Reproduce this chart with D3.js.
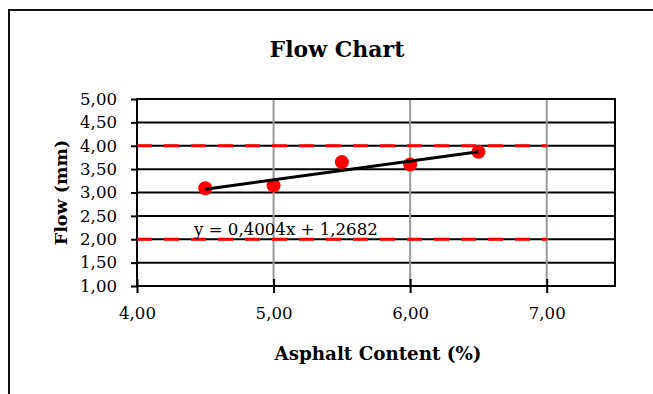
<!DOCTYPE html>
<html>
<head>
<meta charset="utf-8">
<script src="https://cdn.jsdelivr.net/npm/d3@7"></script>
<style>
  body { margin: 0; background: #fff; }
  svg text { font-family: "DejaVu Serif", serif; fill: #000; }
</style>
</head>
<body>
<div id="chart"></div>
<script>
// measured values
var asphaltContent = [4.5, 5.0, 5.5, 6.0, 6.5];
var flowValues = [3.09, 3.15, 3.65, 3.60, 3.87];
var xTicks = [4, 5, 6, 7];
var yTicks = [1, 1.5, 2, 2.5, 3, 3.5, 4, 4.5, 5];
var limitLines = [2, 4];
var trendSlope = 0.4004;
var trendIntercept = 1.2682;
var trendRange = [4.5, 6.5];

var width = 653, height = 394;
var margin = { left: 137, right: 38, top: 99, bottom: 108 };

var svg = d3.select("#chart")
    .append("svg")
    .attr("width", width)
    .attr("height", height);

// outer chart frame (runs off the bottom/right of the window)
svg.append("rect")
    .attr("x", 9).attr("y", 10)
    .attr("width", 700).attr("height", 420)
    .attr("fill", "none")
    .attr("stroke", "#111")
    .attr("stroke-width", 2);

var x = d3.scaleLinear().domain([4, 7.5]).range([margin.left, width - margin.right]);
var y = d3.scaleLinear().domain([1, 5]).range([height - margin.bottom, margin.top]);

var fmt = v => d3.format(".2f")(v).replace(".", ",");

// horizontal gridlines
svg.append("g")
    .selectAll("line")
    .data(yTicks)
    .join("line")
    .attr("x1", x.range()[0]).attr("x2", x.range()[1])
    .attr("y1", d => y(d)).attr("y2", d => y(d))
    .attr("stroke", "#000")
    .attr("stroke-width", 2);

// vertical gridlines
svg.append("g")
    .selectAll("line")
    .data(xTicks.slice(1))
    .join("line")
    .attr("x1", d => x(d)).attr("x2", d => x(d))
    .attr("y1", y(5)).attr("y2", y(1))
    .attr("stroke", "#999")
    .attr("stroke-width", 2);

// plot frame
svg.append("rect")
    .attr("x", x.range()[0]).attr("y", y(5))
    .attr("width", x.range()[1] - x.range()[0])
    .attr("height", y(1) - y(5))
    .attr("fill", "none")
    .attr("stroke", "#000")
    .attr("stroke-width", 2);

// axes
var xAxis = svg.append("g")
    .attr("transform", `translate(0,${y(1)})`)
    .call(d3.axisBottom(x).tickValues(xTicks).tickFormat(fmt).tickSizeInner(7).tickSizeOuter(0).tickPadding(14));
xAxis.select(".domain").remove();
xAxis.selectAll(".tick line").attr("y1", -7).attr("stroke-width", 2);
xAxis.selectAll("text").attr("font-size", 16.6).attr("font-family", "DejaVu Serif");

var yAxis = svg.append("g")
    .attr("transform", `translate(${x(4)},0)`)
    .call(d3.axisLeft(y).tickValues(yTicks).tickFormat(fmt).tickSizeInner(6).tickSizeOuter(0).tickPadding(14));
yAxis.select(".domain").remove();
yAxis.selectAll(".tick line").attr("stroke-width", 2);
yAxis.selectAll("text").attr("font-size", 16.6).attr("font-family", "DejaVu Serif");

// limit lines
svg.append("g")
    .selectAll("line")
    .data(limitLines)
    .join("line")
    .attr("x1", x(4)).attr("x2", x(7))
    .attr("y1", d => y(d)).attr("y2", d => y(d))
    .attr("stroke", "#ff0000")
    .attr("stroke-width", 3)
    .attr("stroke-dasharray", "15 12");

// points
svg.append("g")
    .selectAll("circle")
    .data(asphaltContent)
    .join("circle")
    .attr("cx", d => x(d))
    .attr("cy", (d, i) => y(flowValues[i]))
    .attr("r", 7)
    .attr("fill", "#ff0000");

// trendline
svg.append("line")
    .attr("x1", x(trendRange[0])).attr("y1", y(trendSlope * trendRange[0] + trendIntercept))
    .attr("x2", x(trendRange[1])).attr("y2", y(trendSlope * trendRange[1] + trendIntercept))
    .attr("stroke", "#000")
    .attr("stroke-width", 3);

svg.append("text")
    .attr("x", 194).attr("y", 235)
    .attr("font-size", 16.6)
    .text(`y = ${String(trendSlope).replace(".", ",")}x + ${String(trendIntercept).replace(".", ",")}`);

// titles
svg.append("text")
    .attr("x", 337).attr("y", 57)
    .attr("text-anchor", "middle")
    .attr("font-size", 22).attr("font-weight", "bold")
    .text("Flow Chart");

svg.append("text")
    .attr("x", 378).attr("y", 360)
    .attr("text-anchor", "middle")
    .attr("font-size", 18.3).attr("font-weight", "bold")
    .text("Asphalt Content (%)");

svg.append("text")
    .attr("transform", `translate(67,${(y(1) + y(5)) / 2}) rotate(-90)`)
    .attr("text-anchor", "middle")
    .attr("font-size", 17.5).attr("font-weight", "bold")
    .text("Flow (mm)");
</script>
</body>
</html>
